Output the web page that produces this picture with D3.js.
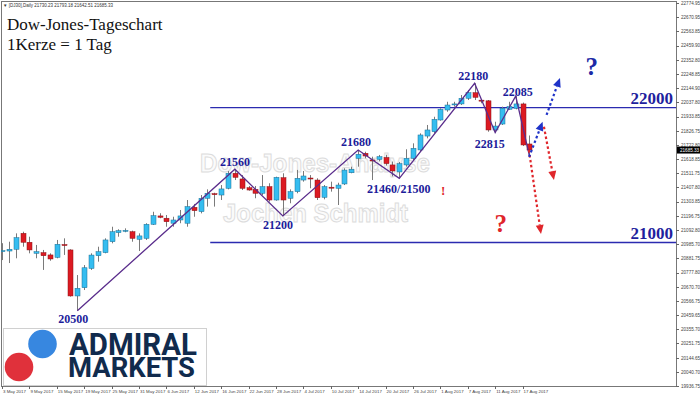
<!DOCTYPE html>
<html>
<head>
<meta charset="utf-8">
<script src="https://cdn.jsdelivr.net/npm/d3@7"></script>
<style>
  body { margin: 0; background: #fff; }
  svg { display: block; }
</style>
</head>
<body>
<div id="chart"></div>
<script>
// bars: one per weekday, 3 May 2017 .. 18 Aug 2017 (CFD, holidays included)
var dates = d3.timeDays(new Date(2017, 4, 3), new Date(2017, 7, 19))
  .filter(d => d.getDay() !== 0 && d.getDay() !== 6);

var open = [20935,20937,20950,21068,21002,20920,20925,20908,20890,20985,
  20945,20604,20665,20808,20902,20925,21006,21073,21085,21080,
  21024,21031,21135,21197,21180,21143,21167,21143,21261,21229,
  21328,21362,21352,21402,21513,21471,21406,21394,21365,21414,
  21315,21480,21328,21377,21463,21478,21463,21335,21410,21402,
  21434,21517,21624,21661,21612,21616,21630,21575,21523,21575,
  21624,21686,21789,21821,21908,21982,22025,22027,22069,22110,
  22055,22050,21834,21878,21987,21995,22027,21730.23];
var high = [20995,21006,21068,21080,21043,20982,20945,20920,21019,21031,
  20950,20759,20833,20920,20969,21031,21117,21098,21105,21088,
  21068,21143,21228,21217,21204,21191,21241,21315,21286,21352,
  21394,21369,21426,21530,21543,21500,21419,21419,21500,21439,
  21488,21513,21394,21538,21530,21500,21476,21426,21451,21443,
  21550,21562,21686,21673,21636,21649,21650,21600,21597,21691,
  21735,21809,21871,21932,21995,22043,22043,22093,22130,22180,
  22061,22056,21895,22007,22043,22085,22037,21793.18];
var low = [20870,20848,20883,20969,20920,20883,20797,20865,20883,20908,
  20599,20495,20648,20797,20858,20920,20994,21043,21076,21006,
  20937,21019,21130,21180,21117,21117,21143,21117,21191,21216,
  21266,21266,21315,21394,21463,21389,21384,21328,21352,21303,
  21310,21197,21291,21365,21451,21402,21315,21320,21377,21278,
  21426,21513,21562,21624,21463,21601,21570,21490,21476,21562,
  21612,21673,21772,21809,21903,21969,22007,22019,22056,22056,
  22032,21821,21815,21871,21982,21987,21715,21642.51];
var close = [20940,20950,21036,21002,20945,20932,20902,20878,20987,20978,
  20604,20661,20813,20907,20932,21019,21080,21088,21090,21031,
  21049,21135,21199,21187,21154,21167,21197,21266,21236,21328,
  21365,21358,21397,21513,21483,21402,21389,21365,21414,21315,
  21483,21315,21377,21476,21493,21474,21332,21414,21409,21426,
  21537,21543,21654,21641,21610,21636,21585,21530,21584,21624,
  21698,21797,21834,21913,21987,22019,22027,22069,22110,22076,
  22050,21834,21863,21995,22007,22027,21723,21685.33];

var priceTicks = [22774.95,22670.95,22563.85,22459.90,22352.80,22248.85,22144.90,
  22037.80,21933.85,21826.75,21722.80,21618.85,21511.75,21407.80,21303.85,
  21196.75,21092.80,20985.70,20881.75,20777.80,20670.70,20566.75,20459.65,
  20355.70,20251.75,20144.65,20040.70,19936.75];
var lastPrice = 21685.33;

var dateTickLabels = ["3 May 2017","9 May 2017","15 May 2017","19 May 2017","25 May 2017",
  "31 May 2017","6 Jun 2017","12 Jun 2017","16 Jun 2017","22 Jun 2017","28 Jun 2017",
  "4 Jul 2017","10 Jul 2017","14 Jul 2017","20 Jul 2017","26 Jul 2017","1 Aug 2017",
  "7 Aug 2017","11 Aug 2017","17 Aug 2017"];

// swing points [bar, price]
var zigzag = [[11,20495],[34,21543],[41,21197],[52,21686],[58,21476],
  [69,22180],[72,21815],[75,22085],[77,21642]];
// labels [text, bar, price, anchor]
var swingLabels = [["20500",10.4,20404,"middle"],["21560",34,21567,"middle"],
  ["21200",40.3,21100,"middle"],["21680",51.7,21715,"middle"],
  ["21460/21500",53.3,21367,"start"],["22180",68.8,22204,"middle"],
  ["22815",71.2,21700,"middle"],["22085",75.3,22089,"middle"]];
var levels = [22000, 21000];
var blueArrows = [[[76.95,21634],[78.93,21895]], [[79.5,21945],[81.46,22219]]];
var redArrows = [[[76.93,21685],[78.69,21063]], [[79.12,21858],[80.58,21463]]];

var svgWidth = 700, svgHeight = 395;
var plot = {left: 1, top: 1, right: 676, bottom: 386};

var svg = d3.select("#chart").append("svg")
  .attr("width", svgWidth)
  .attr("height", svgHeight);

var x = d3.scaleLinear().domain([0, 98.4]).range([2, 676]);
var y = d3.scaleLinear().domain([19936.75, 22774.95]).range([386, 3]);

svg.append("defs").append("clipPath").attr("id", "clip")
  .append("rect")
  .attr("x", plot.left).attr("y", plot.top)
  .attr("width", plot.right - plot.left).attr("height", plot.bottom - plot.top);

// frame
svg.append("rect")
  .attr("x", plot.left + 0.5).attr("y", plot.top + 0.5)
  .attr("width", plot.right - plot.left).attr("height", plot.bottom - plot.top)
  .attr("fill", "none").attr("stroke", "#777").attr("stroke-width", 1);

// header line
svg.append("text")
  .attr("x", 3).attr("y", 7)
  .attr("font-family", "Liberation Sans, Arial, sans-serif")
  .attr("font-size", 4.5).attr("fill", "#333")
  .text("\u25BC [DJ30],Daily  21730.23 21793.18 21642.51 21685.33");

// price axis (right)
var yAxis = svg.append("g")
  .attr("font-family", "Liberation Sans, Arial, sans-serif");
yAxis.selectAll("line").data(priceTicks).enter().append("line")
  .attr("x1", plot.right).attr("x2", plot.right + 3)
  .attr("y1", d => Math.round(y(d)) + 0.5).attr("y2", d => Math.round(y(d)) + 0.5)
  .attr("stroke", "#666");
yAxis.selectAll("text").data(priceTicks).enter().append("text")
  .attr("x", plot.right + 5)
  .attr("y", d => y(d) + 1.6)
  .attr("font-size", 4.6).attr("fill", "#444")
  .text(d => d.toFixed(2));

yAxis.append("rect")
  .attr("x", plot.right + 1).attr("y", y(lastPrice) - 3.5)
  .attr("width", 23).attr("height", 7).attr("fill", "#000");
yAxis.append("text")
  .attr("x", plot.right + 4).attr("y", y(lastPrice) + 1.7)
  .attr("font-size", 4.6).attr("fill", "#fff")
  .text(lastPrice.toFixed(2));

// date axis (bottom)
var xAxis = svg.append("g")
  .attr("font-family", "Liberation Sans, Arial, sans-serif");
xAxis.selectAll("line").data(dateTickLabels).enter().append("line")
  .attr("x1", (d, i) => Math.round(x(i * 4)) + 0.5).attr("x2", (d, i) => Math.round(x(i * 4)) + 0.5)
  .attr("y1", plot.bottom).attr("y2", plot.bottom + 3)
  .attr("stroke", "#666");
xAxis.selectAll("text").data(dateTickLabels).enter().append("text")
  .attr("x", (d, i) => x(i * 4) + 1)
  .attr("y", plot.bottom + 7)
  .attr("font-size", 4.4).attr("fill", "#444")
  .text(d => d);

var chartGroup = svg.append("g").attr("clip-path", "url(#clip)");

// watermark
var wm = chartGroup.append("g")
  .attr("font-family", "Liberation Sans, Arial, sans-serif")
  .attr("font-weight", "bold")
  .attr("font-size", 26)
  .attr("fill", "#fbfbfb").attr("stroke", "#dcdcdc").attr("stroke-width", 1);
wm.append("text").attr("x", 200).attr("y", 172)
  .attr("textLength", 230).attr("lengthAdjust", "spacingAndGlyphs")
  .text("Dow-Jones-Analyse");
wm.append("text").attr("x", 223).attr("y", 222)
  .attr("textLength", 185).attr("lengthAdjust", "spacingAndGlyphs")
  .text("Jochen Schmidt");

// support / resistance levels
chartGroup.selectAll(".level").data(levels).enter().append("line")
  .attr("class", "level")
  .attr("x1", x(30.4)).attr("x2", plot.right)
  .attr("y1", d => y(d)).attr("y2", d => y(d))
  .attr("stroke", "#2b2bb0").attr("stroke-width", 1.3);
chartGroup.selectAll(".levelText").data(levels).enter().append("text")
  .attr("class", "levelText")
  .attr("x", plot.right - 3).attr("y", d => y(d) - 4)
  .attr("text-anchor", "end")
  .attr("font-family", "Liberation Serif, Times New Roman, serif")
  .attr("font-weight", "bold").attr("font-size", 17)
  .attr("fill", "#1f1f9e")
  .text(d => d);

// candles
var bars = dates.map((d, i) => ({i: i, o: open[i], h: high[i], l: low[i], c: close[i]}));
var candles = chartGroup.selectAll(".candle").data(bars).enter().append("g")
  .attr("class", "candle");
candles.append("line")
  .attr("x1", d => Math.round(x(d.i)) + 0.5).attr("x2", d => Math.round(x(d.i)) + 0.5)
  .attr("y1", d => y(d.h)).attr("y2", d => y(d.l))
  .attr("stroke", "#7a7a7a").attr("stroke-width", 1);
candles.append("rect")
  .attr("x", d => Math.round(x(d.i)) - 2)
  .attr("y", d => y(Math.max(d.o, d.c)))
  .attr("width", 5)
  .attr("height", d => Math.max(1, Math.abs(y(d.o) - y(d.c))))
  .attr("fill", d => d.c >= d.o ? "#35bdf0" : "#dc1a22")
  .attr("stroke", d => d.c >= d.o ? "#1c6f94" : "#8c1016")
  .attr("stroke-width", 0.5);

// zig-zag
chartGroup.append("path")
  .attr("d", d3.line().x(d => x(d[0])).y(d => y(d[1]))(zigzag))
  .attr("fill", "none").attr("stroke", "#5a2d8c").attr("stroke-width", 1.3);

chartGroup.selectAll(".swing").data(swingLabels).enter().append("text")
  .attr("class", "swing")
  .attr("x", d => x(d[1])).attr("y", d => y(d[2]))
  .attr("text-anchor", d => d[3])
  .attr("font-family", "Liberation Serif, Times New Roman, serif")
  .attr("font-weight", "bold").attr("font-size", 12)
  .attr("fill", "#1c1c9a")
  .text(d => d[0]);

// dotted scenario arrows
function drawArrows(list, color) {
  list.forEach(function(a) {
    var x0 = x(a[0][0]), y0 = y(a[0][1]), x1 = x(a[1][0]), y1 = y(a[1][1]);
    var ang = Math.atan2(y1 - y0, x1 - x0);
    var len = 9, half = 4;
    var bx = x1 - len * Math.cos(ang), by = y1 - len * Math.sin(ang);
    chartGroup.append("line")
      .attr("x1", x0).attr("y1", y0).attr("x2", bx).attr("y2", by)
      .attr("stroke", color).attr("stroke-width", 2.2)
      .attr("stroke-dasharray", "2.5,2.5");
    var px = -Math.sin(ang) * half, py = Math.cos(ang) * half;
    chartGroup.append("path")
      .attr("d", "M" + x1 + "," + y1 + "L" + (bx + px) + "," + (by + py) + "L" + (bx - px) + "," + (by - py) + "Z")
      .attr("fill", color);
  });
}
drawArrows(redArrows, "#e0262b");
drawArrows(blueArrows, "#1f33c8");

// exclamation / question marks
chartGroup.append("text")
  .attr("x", x(64.4)).attr("y", y(21352))
  .attr("text-anchor", "middle")
  .attr("font-family", "Liberation Serif, Times New Roman, serif")
  .attr("font-weight", "bold").attr("font-size", 13)
  .attr("fill", "#e0262b").text("!");
chartGroup.append("text")
  .attr("x", x(72.8)).attr("y", y(21078))
  .attr("text-anchor", "middle")
  .attr("font-family", "Liberation Serif, Times New Roman, serif")
  .attr("font-weight", "bold").attr("font-size", 25)
  .attr("fill", "#e0262b").text("?");
chartGroup.append("text")
  .attr("x", x(86.1)).attr("y", y(22241))
  .attr("text-anchor", "middle")
  .attr("font-family", "Liberation Serif, Times New Roman, serif")
  .attr("font-weight", "bold").attr("font-size", 25)
  .attr("fill", "#1c2aa6").text("?");

// title
var title = svg.append("g")
  .attr("font-family", "Liberation Serif, Times New Roman, serif")
  .attr("font-size", 17).attr("fill", "#111");
title.append("text").attr("x", 7).attr("y", 30).text("Dow-Jones-Tageschart");
title.append("text").attr("x", 7).attr("y", 50).text("1Kerze = 1 Tag");

// logo
var logo = svg.append("g");
logo.append("rect")
  .attr("x", 3.5).attr("y", 328.5).attr("width", 203).attr("height", 57)
  .attr("fill", "#fff").attr("stroke", "#d0d0d0");
logo.append("circle").attr("cx", 42.5).attr("cy", 344).attr("r", 14.3).attr("fill", "#3787e0");
logo.append("circle").attr("cx", 19).attr("cy", 367).attr("r", 14.3).attr("fill", "#e0313b");
logo.append("text").attr("x", 69).attr("y", 355)
  .attr("font-family", "Roboto, Liberation Sans, sans-serif").attr("font-weight", "bold")
  .attr("font-size", 31).attr("fill", "#112b4d")
  .attr("textLength", 128).attr("lengthAdjust", "spacingAndGlyphs")
  .text("ADMIRAL");
logo.append("text").attr("x", 68).attr("y", 377)
  .attr("font-family", "Roboto, Liberation Sans, sans-serif").attr("font-weight", "bold")
  .attr("font-size", 28).attr("fill", "#112b4d")
  .attr("textLength", 127).attr("lengthAdjust", "spacingAndGlyphs")
  .text("MARKETS");
</script>
</body>
</html>
